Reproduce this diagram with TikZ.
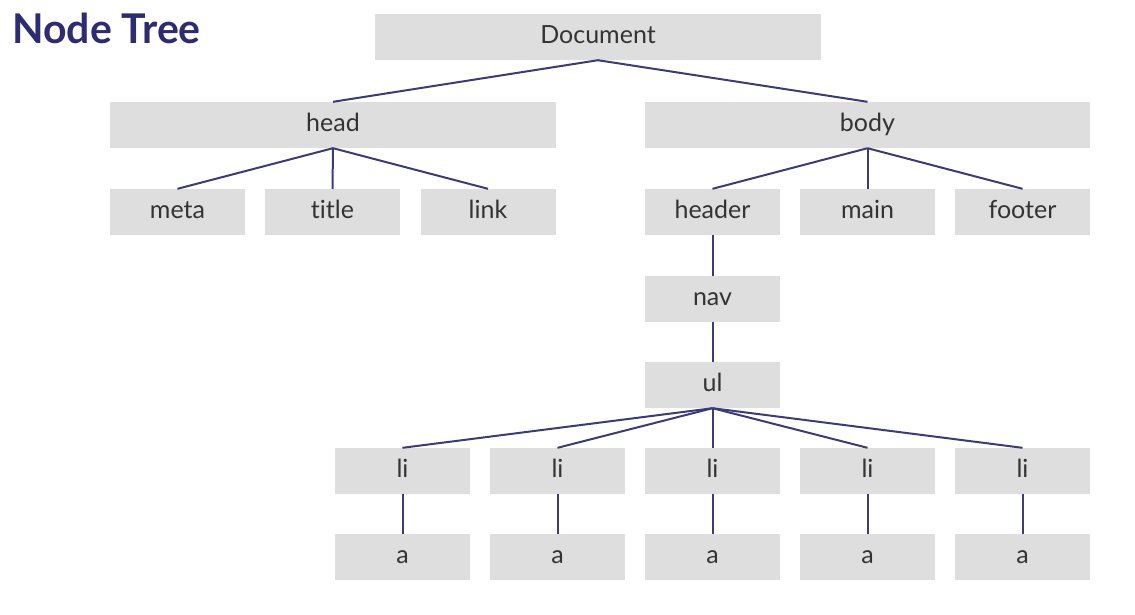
\documentclass[tikz,border=0pt]{standalone}
\usepackage{fontspec}
\setmainfont{Lato}[Ligatures=NoCommon]
\definecolor{boxgray}{HTML}{DEDEDE}
\definecolor{edgecol}{HTML}{3D3A78}
\definecolor{titlecol}{HTML}{2F2B70}
\definecolor{txtcol}{HTML}{333333}
\begin{document}
\begin{tikzpicture}[x=1pt,y=-1pt,
  treebox/.style={fill=boxgray, inner sep=0pt, minimum height=46pt, text=txtcol,
    font=\fontsize{25}{28}\selectfont, text height=17pt, text depth=4pt},
  widebox/.style={treebox, minimum width=446pt},
  smallbox/.style={treebox, minimum width=135pt},
  edge/.style={draw=edgecol, line width=2pt}]
\useasboundingbox (0,0) rectangle (1135,614);
\node[anchor=north west, text=titlecol, font=\fontsize{41}{44}\bfseries\selectfont, inner sep=0pt] (ttl) at (12,13) {Node Tree};
\node[widebox] (doc) at (598,37) {Document};
\node[widebox] (head) at (333,125) {head};
\node[treebox, minimum width=445pt] (body) at (867.5,125) {body};
\node[smallbox] (meta) at (177.5,212) {meta};
\node[smallbox] (title) at (332.5,212) {title};
\node[smallbox] (link) at (488,212) {link};
\node[smallbox] (header) at (712.5,212) {header};
\node[smallbox] (main) at (867.5,212) {main};
\node[smallbox] (footer) at (1022.5,212) {footer};
\node[smallbox] (nav) at (712.5,299) {nav};
\node[smallbox] (ul) at (712.5,385) {ul};
\foreach \i/\x in {1/402.5,2/557.5,3/712.5,4/867.5,5/1022.5}{
  \node[smallbox] (li\i) at (\x,471) {li};
  \node[smallbox] (a\i) at (\x,557) {a};
}
\draw[edge] (doc.south) -- (head.north);
\draw[edge] (doc.south) -- (body.north);
\foreach \c in {meta,title,link}{\draw[edge] (head.south) -- (\c.north);}
\foreach \c in {header,main,footer}{\draw[edge] (body.south) -- (\c.north);}
\draw[edge] (header.south) -- (nav.north);
\draw[edge] (nav.south) -- (ul.north);
\foreach \i in {1,...,5}{
  \draw[edge] (ul.south) -- (li\i.north);
  \draw[edge] (li\i.south) -- (a\i.north);
}
\end{tikzpicture}
\end{document}
